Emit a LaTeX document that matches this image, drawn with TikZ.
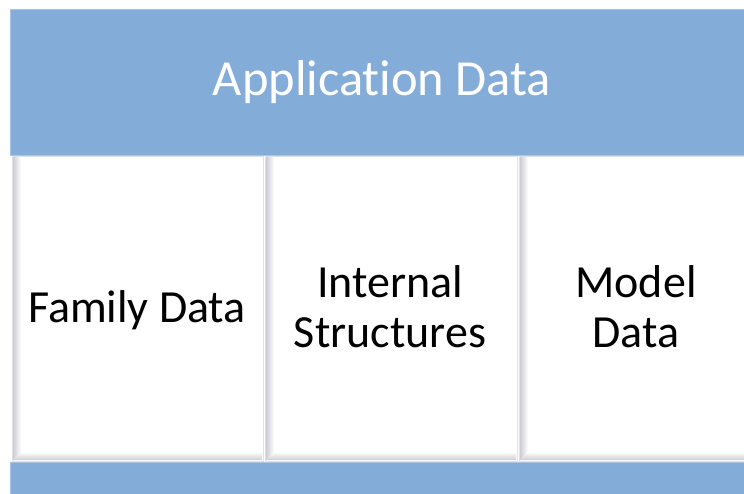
\documentclass[tikz,border=0pt]{standalone}
\usepackage{fontspec}
\setmainfont[Ligatures=NoCommon]{Carlito}
\definecolor{bandblue}{RGB}{132,172,217}
\definecolor{bandedge}{RGB}{170,196,228}
\definecolor{bevel}{RGB}{204,204,212}
\tikzset{
  band/.style={fill=bandblue, draw=bandedge, line width=0.8pt},
  panel/.style={fill=white, draw=bevel!60, line width=0.5pt},
  paneltext/.style={font=\fontsize{46}{50}\selectfont, align=center, text=black},
  bandtext/.style={font=\fontsize{50.5}{56}\selectfont, text=white},
}
\begin{document}
\begin{tikzpicture}[x=1pt,y=1pt]
  \useasboundingbox (0,0) rectangle (744,493);
  \clip (0,0) rectangle (744,493);

  % header band
  \draw[band] (10,338) rectangle (760,484);
  \node[bandtext] (title) at (382,411) {Application Data};

  % footer band
  \draw[band] (10,-5) rectangle (760,31);

  % three panels with a bevelled left and bottom edge
  \foreach \x/\w [count=\i] in {12/251, 265/252, 519/252} {
    \draw[panel] (\x,32) rectangle ++(\w,305);
    \shade[left color=bevel, right color=white]
      (\x+1,33) -- (\x+9,41) -- (\x+9,336) -- (\x+1,336) -- cycle;
    \shade[bottom color=bevel, top color=white]
      (\x+1,33) -- (\x+\w-1,33) -- (\x+\w-1,41) -- (\x+9,41) -- cycle;
  }

  \node[paneltext] (family) at (137,183) {Family Data};
  \node[paneltext] (internal) at (390,186) {Internal\\Structures};
  \node[paneltext] (model) at (636,186) {Model\\Data};
\end{tikzpicture}
\end{document}
